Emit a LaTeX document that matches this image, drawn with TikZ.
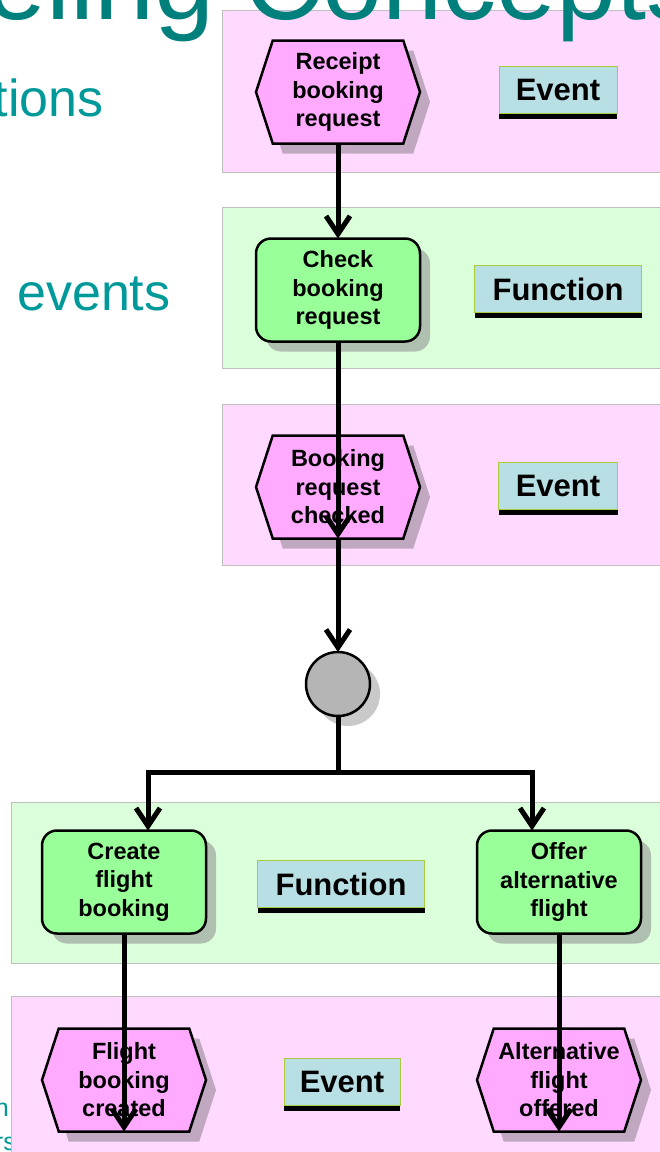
\documentclass[tikz,border=0pt]{standalone}
\usepackage{fontspec}
\setmainfont{Liberation Sans}
\usetikzlibrary{positioning}
\usetikzlibrary{calc}
\usetikzlibrary{shapes.symbols}
\usetikzlibrary{shadows}
\usetikzlibrary{arrows.meta}
\definecolor{titleteal}{RGB}{0,128,124}
\definecolor{bulletteal}{RGB}{0,153,153}
\definecolor{lightpink}{RGB}{255,217,255}
\definecolor{lightgreen}{RGB}{219,255,219}
\definecolor{laneborder}{gray}{.75}
\definecolor{eventpink}{RGB}{255,170,255}
\definecolor{eventshade}{RGB}{192,168,192}
\definecolor{funcgreen}{RGB}{153,255,153}
\definecolor{funcshade}{RGB}{176,192,176}
\definecolor{tagblue}{RGB}{184,224,228}
\definecolor{tagborder}{RGB}{170,204,60}
\definecolor{xorgray}{gray}{.71}
\definecolor{xorshade}{gray}{.79}
\newcommand{\widthnode}{164pt}
\newcommand{\heightnode}{103pt}
\newcommand{\shadowshift}{10pt}
\tikzset{
    common/.style={draw, line width=2.5pt, outer sep=0pt, inner sep=0pt, align=center,
        font=\fontsize{23.5}{28.5}\selectfont\bfseries,
        minimum width=\widthnode, minimum height=\heightnode},
    event/.style={common, fill=eventpink, signal, signal to=east and west, signal pointer angle=144,
        drop shadow={shadow xshift=\shadowshift, shadow yshift=-\shadowshift, fill=eventshade, opacity=1}},
    function/.style={common, fill=funcgreen, rectangle, rounded corners=15pt,
        drop shadow={shadow xshift=\shadowshift, shadow yshift=-\shadowshift, fill=funcshade, opacity=1}},
    xor/.style={draw, line width=2.5pt, circle, minimum size=64pt, inner sep=0pt, outer sep=0pt, fill=xorgray,
        drop shadow={shadow xshift=\shadowshift, shadow yshift=-\shadowshift, fill=xorshade, opacity=1}},
    tag/.style={draw=tagborder, line width=1pt, fill=tagblue, rectangle, minimum height=47pt, inner sep=0pt,
        font=\fontsize{31}{31}\selectfont\bfseries,
        drop shadow={shadow xshift=0pt, shadow yshift=-5pt, fill=black, opacity=1}},
    pinklane/.style={draw=laneborder, line width=1pt, fill=lightpink},
    greenlane/.style={draw=laneborder, line width=1pt, fill=lightgreen},
    bullet/.style={inner sep=0pt, text=bulletteal},
    wire/.style={line width=5pt},
    flow/.style={wire, -{Straight Barb[length=18pt,width=24pt]}},
}
\begin{document}
\begin{tikzpicture}[x=1pt, y=-1pt]
    \useasboundingbox (0,0) rectangle (660,1152);

    % slide text behind the diagram
    \node[bullet, anchor=base east, font=\fontsize{52}{56}\selectfont] (bulletA) at (104,116) {tions};
    \node[bullet, anchor=base west, font=\fontsize{52}{56}\selectfont] (bulletB) at (17,310) {events};
    \node[bullet, anchor=base east, font=\fontsize{25}{28}\selectfont] (bulletC) at (9,1116) {n};
    \node[bullet, anchor=base east, font=\fontsize{25}{28}\selectfont] (bulletD) at (16,1150) {rs};

    % lanes
    \draw[pinklane] (222,10) rectangle (670,172);
    \draw[greenlane] (222,207) rectangle (670,368);
    \draw[pinklane] (222,404) rectangle (670,565);
    \draw[greenlane] (11,802) rectangle (670,963);
    \draw[pinklane] (11,996) rectangle (670,1160);

    \node[anchor=base east, inner sep=0pt, text=titleteal, font=\fontsize{108}{110}\selectfont] (title) at (701,19) {Modeling Concepts};

    % process chain
    \node[event] (receipt) at (338,92) {Receipt\\booking\\request};
    \node[function] (check) at (338,290) {Check\\booking\\request};
    \node[event] (checked) at (338,487) {Booking\\request\\checked};
    \node[xor] (xor) at (338,684) {};
    \node[function] (create) at (124,882) {Create\\flight\\booking};
    \node[function] (offer) at (559,882) {Offer\\alternative\\flight};
    \node[event] (created) at (124,1080) {Flight\\booking\\created};
    \node[event] (offered) at (559,1080) {Alternative\\flight\\offered};

    % legend tags
    \node[tag, minimum width=118pt] (tagA) at (558,90) {Event};
    \node[tag, minimum width=167pt] (tagB) at (558,289) {Function};
    \node[tag, minimum width=119pt] (tagC) at (558,486) {Event};
    \node[tag, minimum width=167pt] (tagD) at (341,884) {Function};
    \node[tag, minimum width=116pt] (tagE) at (342,1082) {Event};

    \coordinate (forkL) at (148,772);
    \coordinate (forkR) at (532,772);

    \draw[flow] (receipt.south) -- (check.north);
    \draw[flow] (check.south) -- (checked.south);
    \draw[flow] (checked.south) -- (xor.north);
    \draw[wire] (xor.south) -- (xor.south |- forkL);
    \draw[flow] (xor.south |- forkL) -- (forkL) -- (forkL |- create.north);
    \draw[flow] (xor.south |- forkR) -- (forkR) -- (forkR |- offer.north);
    \draw[flow] (create.south) -- (created.south);
    \draw[flow] (offer.south) -- (offered.south);
\end{tikzpicture}
\end{document}
